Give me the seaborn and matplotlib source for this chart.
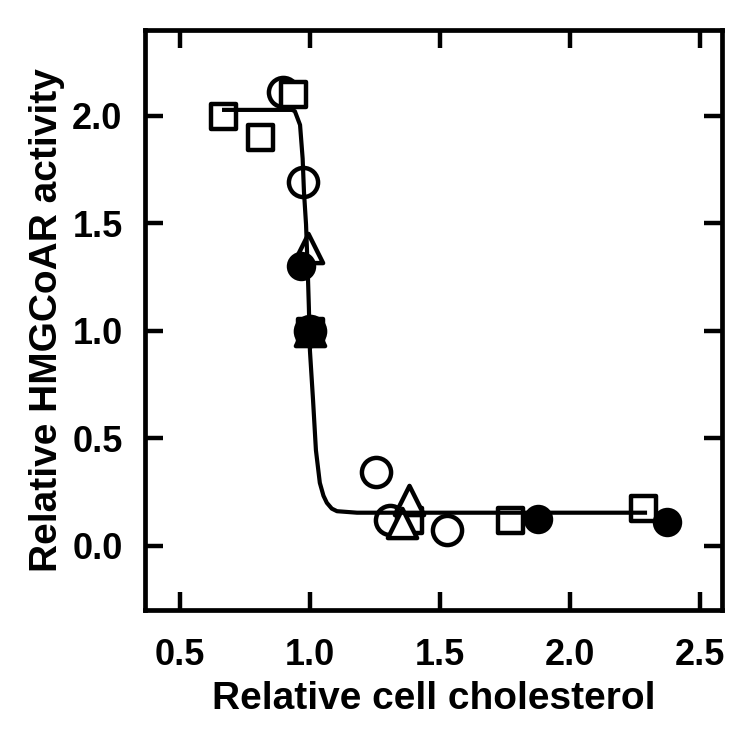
import pandas as pd
import seaborn as sns
import matplotlib
matplotlib.use("Agg")
import matplotlib.pyplot as plt

# data
open_circle_x = [0.896, 0.973, 1.0, 1.254, 1.308, 1.527]
open_circle_y = [2.111, 1.694, 1.0, 0.343, 0.12, 0.074]

open_square_x = [0.665, 0.808, 0.935, 1.381, 1.769, 2.281]
open_square_y = [2.0, 1.903, 2.10, 0.12, 0.12, 0.176]

open_triangle_x = [0.992, 1.0, 1.381, 1.354]
open_triangle_y = [1.384, 1.0, 0.213, 0.106]

filled_circle_x = [0.965, 1.0, 1.877, 2.373]
filled_circle_y = [1.30, 1.0, 0.125, 0.111]

filled_square_x = [1.0]
filled_square_y = [1.0]

# fitted curve
curve_x = [0.662, 0.931, 0.942, 0.962, 0.972, 0.977, 0.985, 0.992, 0.996,
           1.0, 1.012, 1.023, 1.038, 1.052, 1.065, 1.084, 1.104, 1.181, 2.296]
curve_y = [2.028, 2.028, 2.022, 1.958, 1.801, 1.648, 1.495, 1.264, 1.106,
           0.907, 0.676, 0.444, 0.292, 0.232, 0.199, 0.172, 0.160, 0.153, 0.153]

sns.set_style("ticks")
plt.rcParams['font.family'] = ['Liberation Sans', 'DejaVu Sans']
plt.rcParams['font.weight'] = 'bold'
plt.rcParams['text.color'] = 'black'
plt.rcParams['axes.labelcolor'] = 'black'
plt.rcParams['xtick.color'] = 'black'
plt.rcParams['ytick.color'] = 'black'

fig = plt.figure(figsize=(7.5, 7.31), dpi=100)
ax = fig.add_axes([0.193, 0.1655, 0.77, 0.7935])

lw = 3.2
sns.scatterplot(x=open_circle_x, y=open_circle_y, marker='o', s=21 ** 2,
                facecolor='white', edgecolor='black', linewidth=lw, ax=ax, zorder=2)
sns.scatterplot(x=open_square_x, y=open_square_y, marker='s', s=18 ** 2,
                facecolor='white', edgecolor='black', linewidth=lw, ax=ax, zorder=3)
sns.scatterplot(x=open_triangle_x, y=open_triangle_y, marker='^', s=21 ** 2,
                facecolor='white', edgecolor='black', linewidth=lw, ax=ax, zorder=3)
sns.scatterplot(x=filled_circle_x, y=filled_circle_y, marker='o', s=18 ** 2,
                color='black', edgecolor='black', linewidth=lw, ax=ax, zorder=4)
sns.scatterplot(x=filled_square_x, y=filled_square_y, marker='s', s=18 ** 2,
                color='black', edgecolor='black', linewidth=lw, ax=ax, zorder=5)
for coll in ax.collections:
    coll.set_linewidths(lw)

curve = pd.DataFrame({"x": curve_x, "y": curve_y})
sns.lineplot(data=curve, x="x", y="y", sort=False, estimator=None,
             color='black', ax=ax, zorder=6)
ax.lines[-1].set_linewidth(3.0)
ax.lines[-1].set_solid_capstyle('butt')

ax.set_xlim(0.365, 2.585)
ax.set_ylim(-0.3, 2.4)
ax.set_xticks([0.5, 1.0, 1.5, 2.0, 2.5])
ax.set_yticks([0.0, 0.5, 1.0, 1.5, 2.0])
ax.set_xticklabels(['0.5', '1.0', '1.5', '2.0', '2.5'], fontsize=26,
                   fontweight='bold')
ax.set_yticklabels(['0.0', '0.5', '1.0', '1.5', '2.0'], fontsize=26,
                   fontweight='bold')

for side in ['left', 'right', 'top', 'bottom']:
    ax.spines[side].set_visible(True)
    ax.spines[side].set_linewidth(3.4)
    ax.spines[side].set_color('black')

ax.tick_params(axis='both', direction='in', length=13, width=3.2,
               top=True, right=True, color='black')
ax.tick_params(axis='x', pad=20)
ax.tick_params(axis='y', pad=16)

ax.set_xlabel('Relative cell cholesterol', fontsize=28, fontweight='bold',
              labelpad=6)
ax.set_ylabel('Relative HMGCoAR activity', fontsize=28, fontweight='bold',
              labelpad=5)

fig.savefig('out.png', dpi=100, facecolor='white')
